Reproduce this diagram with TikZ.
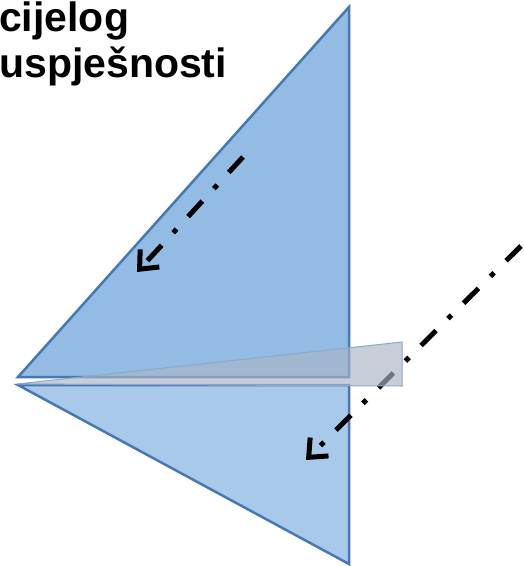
\documentclass[tikz,border=0pt]{standalone}
\usepackage{fontspec}
\setmainfont{Liberation Sans}
\usetikzlibrary{arrows.meta}

\definecolor{gornja}{RGB}{147,188,228}
\definecolor{donja}{RGB}{169,201,234}
\definecolor{rub}{RGB}{70,120,180}
\definecolor{siva}{RGB}{170,180,197}
\definecolor{sivirub}{RGB}{140,168,202}

\begin{document}
\begin{tikzpicture}[x=1pt,y=-1pt,
  plocha/.style={draw=rub,line width=2.5pt},
  smjer/.style={line width=5pt,dash pattern=on 21pt off 17pt on 5pt off 17pt,
    -{Straight Barb[length=15pt,width=26pt]}},
  naslov/.style={font=\bfseries\fontsize{41}{41}\selectfont,inner sep=0,anchor=base west}]
\useasboundingbox (0,0) rectangle (524,566);
\node[naslov] (cij) at (-1,31) {cijelog};
\node[naslov] (usp) at (-1,77) {uspješnosti};
% trokuti
\filldraw[plocha,fill=gornja] (18,377) -- (349,7) -- (349,377) -- cycle;
\filldraw[plocha,fill=donja] (18,385) -- (349,385) -- (349,564) -- cycle;
% strelice
\coordinate (s1) at (243,157);
\coordinate (e1) at (137,272);
\coordinate (s2) at (521,246);
\coordinate (e2) at (306,460);
\draw[smjer] (s1) -- (e1);
\draw[smjer] (s2) -- (e2);
% klin
\filldraw[draw=sivirub,line width=1pt,fill=siva,fill opacity=0.65] (17,384) -- (402,342) -- (402,386) -- cycle;
\end{tikzpicture}
\end{document}
